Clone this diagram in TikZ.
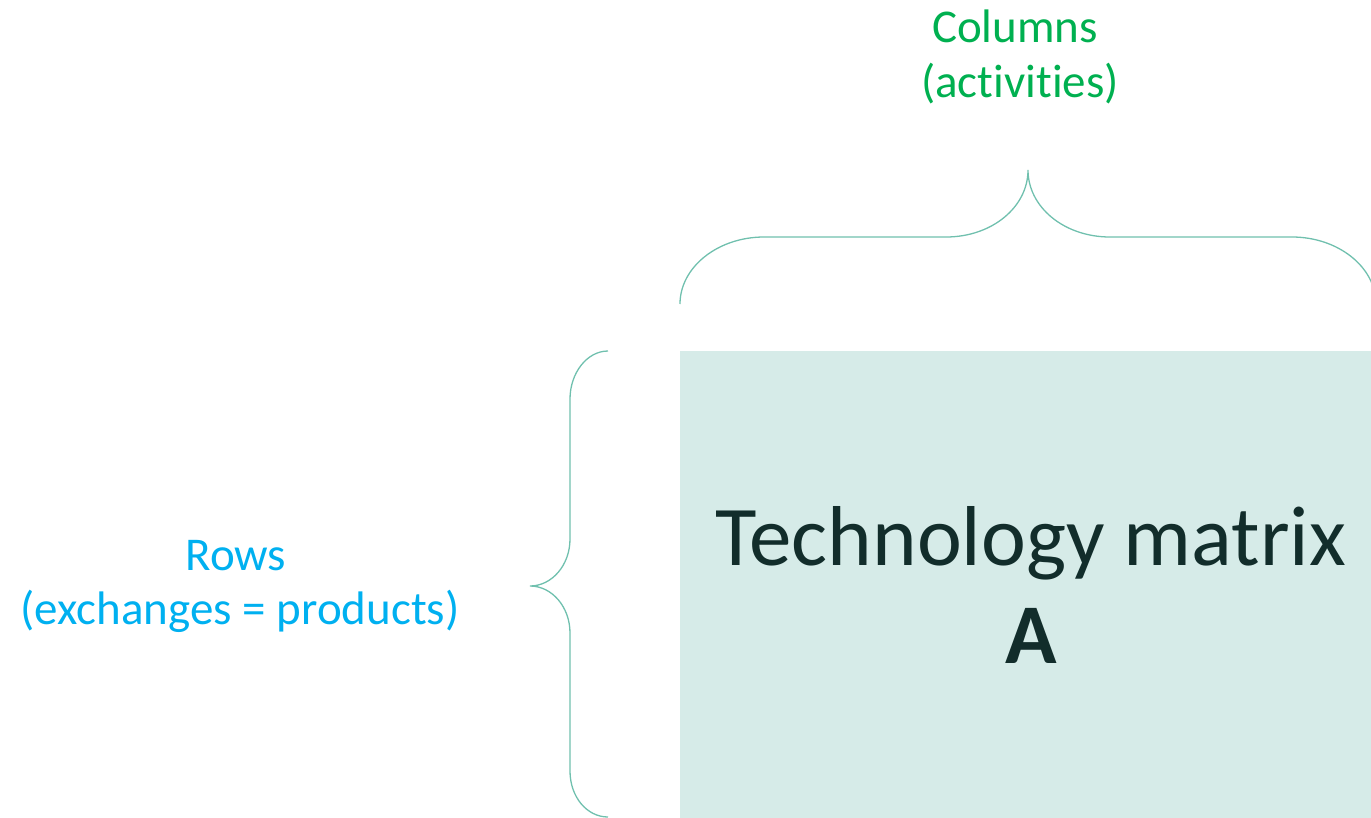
\documentclass[tikz,border=0pt]{standalone}
\usepackage{fontspec}
\setmainfont{Carlito}[Ligatures=NoCommon]
\definecolor{bracecol}{HTML}{70C0AE}
\definecolor{matfill}{HTML}{D6EBE8}
\definecolor{mattext}{HTML}{122D2B}
\definecolor{rowblue}{HTML}{00B0F0}
\definecolor{colgreen}{HTML}{00B050}
\tikzset{
  bracestyle/.style={draw=bracecol, line width=1.3pt},
  labeltext/.style={inner sep=0pt, anchor=base, font=\fontsize{47}{56}\selectfont},
  bigtext/.style={inner sep=0pt, anchor=base, text=mattext, font=\fontsize{85}{98}\selectfont}
}
\begin{document}
\begin{tikzpicture}[x=1pt,y=-1pt]
\useasboundingbox (0,0) rectangle (1371,817);
% matrix box
\fill[matfill] (680,351) rectangle (1380,830);
\node[bigtext] (tm) at (1031,565) {Technology matrix};
\node[bigtext, font=\fontsize{85}{98}\selectfont\bfseries] (A) at (1031,663) {A};
% top brace
\coordinate (tl) at (680,304);
\coordinate (tip) at (1028,170);
\coordinate (tr) at (1376,304);
\draw[bracestyle] (tl) .. controls (680,267) and (718,237) .. (764,237)
  -- (946,237) .. controls (992,237) and (1028,207) .. (tip)
  .. controls (1028,207) and (1064,237) .. (1110,237)
  -- (1292,237) .. controls (1338,237) and (1376,267) .. (tr);
% left brace
\coordinate (lt) at (608,351);
\coordinate (ltip) at (530,586);
\coordinate (lb) at (608,817);
\draw[bracestyle] (lt) .. controls (587,351) and (570,373) .. (570,399)
  -- (570,539) .. controls (570,565) and (552,586) .. (ltip)
  .. controls (552,586) and (570,607) .. (570,633)
  -- (570,771) .. controls (570,797) and (587,817) .. (lb);
% labels
\node[labeltext, text=colgreen] (col1) at (1015,42) {Columns};
\node[labeltext, text=colgreen] (col2) at (1020,97) {(activities)};
\node[labeltext, text=rowblue] (row1) at (236,570) {Rows};
\node[labeltext, text=rowblue] (row2) at (240,624) {(exchanges = products)};
\end{tikzpicture}
\end{document}
